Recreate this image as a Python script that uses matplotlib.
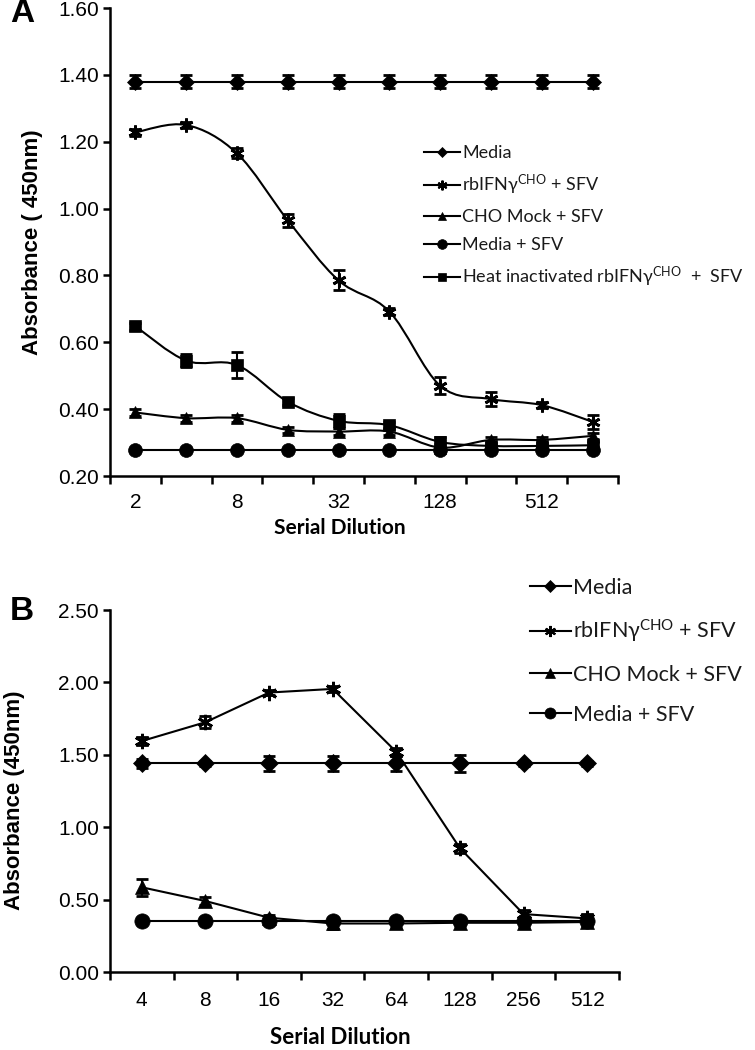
import matplotlib
matplotlib.use("Agg")
import matplotlib.pyplot as plt
import numpy as np
from matplotlib.path import Path
from matplotlib.patches import PathPatch
from matplotlib.lines import Line2D

plt.rcParams['font.family'] = ['Liberation Sans', 'DejaVu Sans']
plt.rcParams['mathtext.fontset'] = 'custom'
plt.rcParams['mathtext.rm'] = 'Lato'
plt.rcParams['mathtext.it'] = 'Lato:italic'
plt.rcParams['mathtext.bf'] = 'Lato:bold'

# ---------------- Panel A data ----------------
dil_a = ['2', '4', '8', '16', '32', '64', '128', '256', '512', '1024']
a_media = [1.38, 1.38, 1.38, 1.38, 1.38, 1.38, 1.38, 1.38, 1.38, 1.38]
a_media_err = [0.02, 0.02, 0.02, 0.02, 0.02, 0.02, 0.02, 0.02, 0.02, 0.02]
a_rbifn = [1.228, 1.25, 1.165, 0.965, 0.785, 0.692, 0.47, 0.43, 0.412, 0.362]
a_rbifn_err = [0.01, 0.008, 0.015, 0.02, 0.03, 0.01, 0.025, 0.02, 0.01, 0.02]
a_cho = [0.39, 0.373, 0.373, 0.338, 0.333, 0.333, 0.285, 0.308, 0.308, 0.32]
a_cho_err = [0.01, 0.01, 0.01, 0.01, 0.01, 0.01, 0.01, 0.01, 0.01, 0.01]
a_msfv = [0.278, 0.278, 0.278, 0.278, 0.278, 0.278, 0.278, 0.278, 0.278, 0.278]
a_msfv_err = [0.005, 0.005, 0.005, 0.005, 0.005, 0.005, 0.005, 0.005, 0.005, 0.005]
a_heat = [0.648, 0.545, 0.532, 0.422, 0.365, 0.352, 0.302, 0.29, 0.29, 0.292]
a_heat_err = [0.01, 0.02, 0.04, 0.01, 0.02, 0.01, 0.015, 0.01, 0.01, 0.01]

# ---------------- Panel B data ----------------
dil_b = ['4', '8', '16', '32', '64', '128', '256', '512']
b_media = [1.44, 1.44, 1.44, 1.44, 1.44, 1.44, 1.44, 1.44]
b_media_err = [0.03, 0.02, 0.05, 0.05, 0.05, 0.06, 0.02, 0.02]
b_rbifn = [1.595, 1.725, 1.93, 1.955, 1.52, 0.855, 0.40, 0.37]
b_rbifn_err = [0.03, 0.04, 0.02, 0.02, 0.03, 0.03, 0.03, 0.03]
b_cho = [0.585, 0.49, 0.375, 0.335, 0.335, 0.34, 0.34, 0.345]
b_cho_err = [0.06, 0.03, 0.02, 0.04, 0.03, 0.02, 0.03, 0.03]
b_msfv = [0.355, 0.355, 0.355, 0.355, 0.355, 0.355, 0.355, 0.355]
b_msfv_err = [0.02, 0.02, 0.02, 0.02, 0.02, 0.02, 0.02, 0.02]

lbl_media = 'Media'
lbl_rbifn = r'rbIFNγ$^{\mathrm{CHO}}$ + SFV'
lbl_cho = 'CHO Mock + SFV'
lbl_msfv = 'Media + SFV'
lbl_heat = r'Heat inactivated rbIFNγ$^{\mathrm{CHO}}$  +  SFV'

STAR = (6, 2, 0)
LW = 1.5
K = '#000000'

fig = plt.figure(figsize=(7.55, 10.5), dpi=100)
W, H = 755, 1050

def ax_at(x0, y0, x1, y1):
    return fig.add_axes([x0 / W, 1 - y1 / H, (x1 - x0) / W, (y1 - y0) / H])

def smooth_path(xs, ys):
    xs = np.asarray(xs, float); ys = np.asarray(ys, float)
    n = len(xs)
    verts = [(xs[0], ys[0])]
    codes = [Path.MOVETO]
    for i in range(n - 1):
        p0 = np.array([xs[max(i - 1, 0)], ys[max(i - 1, 0)]])
        p1 = np.array([xs[i], ys[i]])
        p2 = np.array([xs[i + 1], ys[i + 1]])
        p3 = np.array([xs[min(i + 2, n - 1)], ys[min(i + 2, n - 1)]])
        c1 = p1 + (p2 - p0) / 6.0
        c2 = p2 - (p3 - p1) / 6.0
        verts += [tuple(c1), tuple(c2), tuple(p2)]
        codes += [Path.CURVE4] * 3
    return Path(verts, codes)

def style_axes(ax, labels, show_every, ylim, yticks, fs, xpad):
    n = len(labels)
    ax.set_xlim(-0.5, n - 0.5)
    ax.set_ylim(*ylim)
    ax.set_yticks(yticks)
    ax.set_yticklabels(['%.2f' % v for v in yticks])
    ax.set_xticks(np.arange(-0.5, n, 1.0))
    ax.set_xticklabels([])
    ax.set_xticks(np.arange(0, n, show_every), minor=True)
    ax.set_xticklabels([labels[i] for i in range(0, n, show_every)], minor=True)
    for s in ['top', 'right']:
        ax.spines[s].set_visible(False)
    for s in ['left', 'bottom']:
        ax.spines[s].set_linewidth(1.8)
    ax.tick_params(axis='both', which='major', direction='out', length=5,
                   width=1.8, labelsize=fs, colors=K, pad=3)
    ax.tick_params(axis='x', which='minor', length=0, labelsize=fs, pad=xpad)
    ax.tick_params(axis='x', which='major', length=6)
    ax.patch.set_alpha(0)

def draw_series(ax, xs, ys, err, marker, ms, smooth):
    ax.errorbar(xs, ys, yerr=err, fmt='none', ecolor=K, elinewidth=1.5,
                capsize=4, capthick=2, zorder=3)
    if smooth:
        ax.add_patch(PathPatch(smooth_path(xs, ys), fill=False, lw=LW,
                               edgecolor=K, zorder=2))
    else:
        ax.plot(xs, ys, color=K, lw=LW, zorder=2)
    ax.plot(xs, ys, linestyle='none', marker=marker, ms=ms, color=K,
            mec=K, mew=2.0 if marker == STAR else 0.5, zorder=4)

# ---------------- Panel A ----------------
axA = ax_at(110, 8, 618, 476)
xa = np.arange(len(dil_a))
style_axes(axA, dil_a, 2, (0.2, 1.6), np.arange(0.2, 1.61, 0.2), 15, 12)
draw_series(axA, xa, a_msfv, a_msfv_err, 'o', 10, False)
draw_series(axA, xa, a_cho, a_cho_err, '^', 8.5, True)
draw_series(axA, xa, a_heat, a_heat_err, 's', 9, True)
draw_series(axA, xa, a_rbifn, a_rbifn_err, STAR, 10, True)
draw_series(axA, xa, a_media, a_media_err, 'D', 8, False)

def handle(marker, ms):
    return Line2D([], [], color=K, lw=LW, marker=marker, ms=ms, mec=K,
                  mew=1.5 if marker == STAR else 0.5)

hA = [handle('D', 5), handle(STAR, 7), handle('^', 6), handle('o', 7), handle('s', 6)]
legA = fig.legend(hA, [lbl_media, lbl_rbifn, lbl_cho, lbl_msfv, lbl_heat],
                  loc='upper left', bbox_to_anchor=(424 / W, 1 - 145 / H),
                  frameon=False, prop={'family': 'Lato', 'size': 13},
                  handlelength=2.0, handletextpad=0.12, labelspacing=0.66,
                  borderaxespad=0, borderpad=0)
for t in legA.get_texts():
    t.set_color('#1a1a1a')

fig.text(33 / W, 1 - 242 / H, 'Absorbance ( 450nm)', rotation=90, ha='center',
         va='center', fontsize=16, fontweight='bold', color=K)
fig.text(340 / W, 1 - 528 / H, 'Serial Dilution', ha='center', va='center',
         fontsize=15, fontweight='bold', family='Lato', color=K)
fig.text(10 / W, 1 - 14 / H, 'A', ha='left', va='center', fontsize=24,
         fontweight='bold', color=K)

# ---------------- Panel B ----------------
axB = ax_at(110, 610, 619, 972)
xb = np.arange(len(dil_b))
style_axes(axB, dil_b, 1, (0.0, 2.5), np.arange(0.0, 2.51, 0.5), 15, 14)
draw_series(axB, xb, b_msfv, b_msfv_err, 'o', 11, False)
draw_series(axB, xb, b_cho, b_cho_err, '^', 10, False)
draw_series(axB, xb, b_rbifn, b_rbifn_err, STAR, 11, False)
draw_series(axB, xb, b_media, b_media_err, 'D', 9, False)

hB = [handle('D', 6), handle(STAR, 8), handle('^', 7), handle('o', 8)]
legB = fig.legend(hB, [lbl_media, lbl_rbifn, lbl_cho, lbl_msfv],
                  loc='upper left', bbox_to_anchor=(530 / W, 1 - 578 / H),
                  frameon=False, prop={'family': 'Lato', 'size': 15.5},
                  handlelength=1.9, handletextpad=0.12, labelspacing=0.92,
                  borderaxespad=0, borderpad=0)
for t in legB.get_texts():
    t.set_color('#1a1a1a')

fig.text(15 / W, 1 - 800 / H, 'Absorbance (450nm)', rotation=90, ha='center',
         va='center', fontsize=16, fontweight='bold', color=K)
fig.text(340 / W, 1 - 1038 / H, 'Serial Dilution', ha='center', va='center',
         fontsize=16, fontweight='bold', family='Lato', color=K)
fig.text(10 / W, 1 - 612 / H, 'B', ha='left', va='center', fontsize=24,
         fontweight='bold', color=K)

fig.savefig('out.png', dpi=100, facecolor='white')
